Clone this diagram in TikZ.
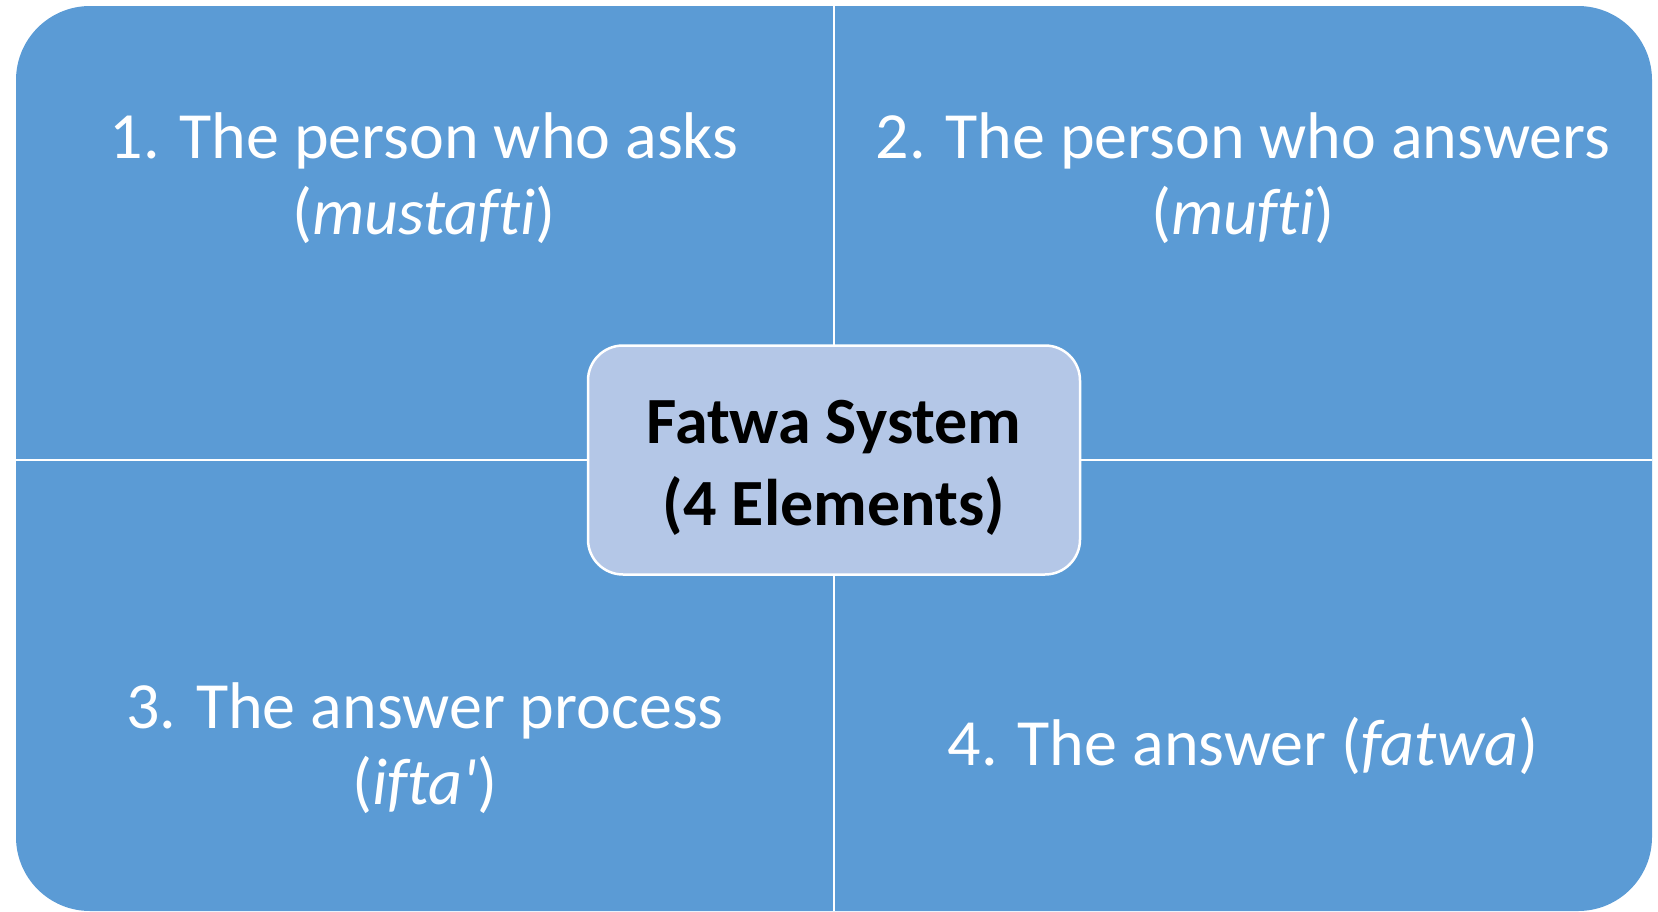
\documentclass[tikz,border=0pt]{standalone}
\usepackage{fontspec}
\setmainfont[Ligatures={NoCommon}]{Carlito}
\definecolor{quadblue}{HTML}{5B9BD5}
\definecolor{centerblue}{HTML}{B4C7E7}
\begin{document}
\begin{tikzpicture}[x=1pt,y=-1pt,
  quadtext/.style={text=white, align=center, font=\fontsize{66}{76}\selectfont, inner sep=0pt},
  centerbox/.style={fill=centerblue, draw=white, line width=2.5pt, rounded corners=35pt,
    minimum width=492pt, minimum height=229pt, align=center, inner sep=0pt},
  centertext/.style={align=center, inner sep=0pt, font=\bfseries\fontsize{66}{82}\selectfont},
  divider/.style={draw=white, line width=2.5pt}]
\useasboundingbox (0,0) rectangle (1658,911);
\fill[quadblue, rounded corners=74pt] (16,6) rectangle (1652,911);
\coordinate (top) at (834,6);
\coordinate (bot) at (834,911);
\coordinate (lft) at (16,460);
\coordinate (rgt) at (1652,460);
\draw[divider] (top) -- (bot);
\draw[divider] (lft) -- (rgt);
\node[centerbox] (center) at (834,460) {};
\node[centertext] (centerlabel) at (834,468) {Fatwa System\\(4 Elements)};
\node[quadtext] (q1) at (424,178) {1. The person who asks\\(\textit{mustafti})};
\node[quadtext] (q2) at (1243,178) {2. The person who answers\\(\textit{mufti})};
\node[quadtext] (q3) at (425,748) {3. The answer process\\(\textit{ifta\textquotesingle})};
\node[quadtext] (q4) at (1243,746) {4. The answer (\textit{fatwa})};
\end{tikzpicture}
\end{document}
